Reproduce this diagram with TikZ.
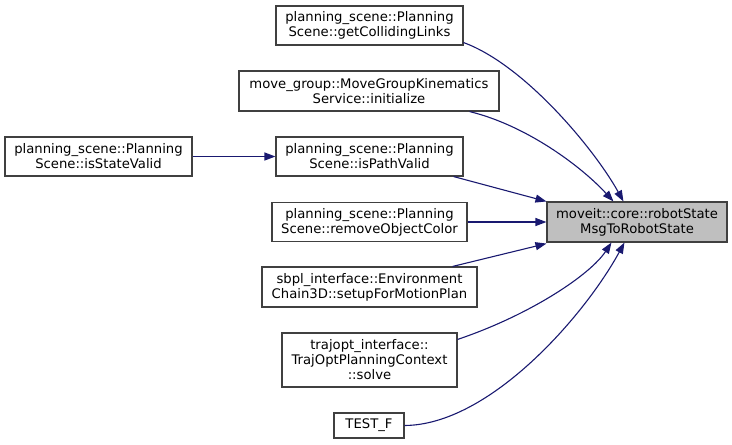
\documentclass[tikz,border=0pt]{standalone}
\usepackage{fontspec}
\setmainfont{DejaVu Sans}
\usetikzlibrary{arrows.meta,calc}
\definecolor{edgeblue}{HTML}{191970}
\definecolor{boxline}{HTML}{404040}
\tikzset{
  fnbox/.style={draw=boxline,line width=1.1pt,fill=white,align=center,inner sep=0pt,
    font=\fontsize{13.2}{15}\selectfont},
  mainbox/.style={fnbox,fill=black!25},
  edge/.style={draw=edgeblue,line width=1.1pt,-{Triangle[length=11pt,width=8pt]}},
}
\begin{document}
\begin{tikzpicture}[x=1pt,y=-1pt]
\useasboundingbox (0,0) rectangle (732,445);
\node[fnbox,minimum width=187pt,minimum height=39pt] (A) at (369.5,25.5) {planning\_scene::Planning\\Scene::getCollidingLinks};
\node[fnbox,minimum width=260pt,minimum height=40pt] (B) at (369,91) {move\_group::MoveGroupKinematics\\Service::initialize};
\node[fnbox,minimum width=187pt,minimum height=39pt] (C) at (369.5,156.5) {planning\_scene::Planning\\Scene::isPathValid};
\node[fnbox,minimum width=187pt,minimum height=39pt] (D) at (98.5,156.5) {planning\_scene::Planning\\Scene::isStateValid};
\node[fnbox,minimum width=195pt,minimum height=39pt] (E) at (369.5,222) {planning\_scene::Planning\\Scene::removeObjectColor};
\node[fnbox,minimum width=215pt,minimum height=40pt] (F) at (369.5,287) {sbpl\_interface::Environment\\Chain3D::setupForMotionPlan};
\node[fnbox,minimum width=175pt,minimum height=54pt] (G) at (369.5,360) {trajopt\_interface::\\TrajOptPlanningContext\\::solve};
\node[fnbox,minimum width=70pt,minimum height=25pt] (H) at (369,425.5) {TEST\_F};
\node[mainbox,minimum width=180pt,minimum height=40pt] (T) at (637,222) {moveit::core::robotState\\MsgToRobotState};

\coordinate (TtopA) at ($(T.north west)+(77,0)$);
\coordinate (TtopB) at ($(T.north west)+(67,0)$);
\coordinate (TbotG) at ($(T.south west)+(65,0)$);
\coordinate (TbotH) at ($(T.south west)+(78,0)$);
\coordinate (TnwC) at ($(T.north west)+(0,0)$);
\coordinate (TswF) at ($(T.south west)+(0,1)$);

\draw[edge] ($(A.south east)+(0,-3)$) .. controls (525,65) and (595,150) .. (TtopA);
\draw[edge] ($(B.south east)+(-30,0)$) .. controls (525,125) and (580,165) .. (TtopB);
\draw[edge] ($(C.south east)+(-10,0)$) -- (TnwC);
\draw[edge] (E.east) -- (T.west);
\draw[edge] ($(F.north east)+(-25,0)$) -- (TswF);
\draw[edge] ($(G.north east)+(0,7)$) .. controls (530,315) and (590,275) .. (TbotG);
\draw[edge] (H.east) .. controls (490,425) and (585,315) .. (TbotH);
\draw[edge] (D.east) -- (C.west);
\end{tikzpicture}
\end{document}
